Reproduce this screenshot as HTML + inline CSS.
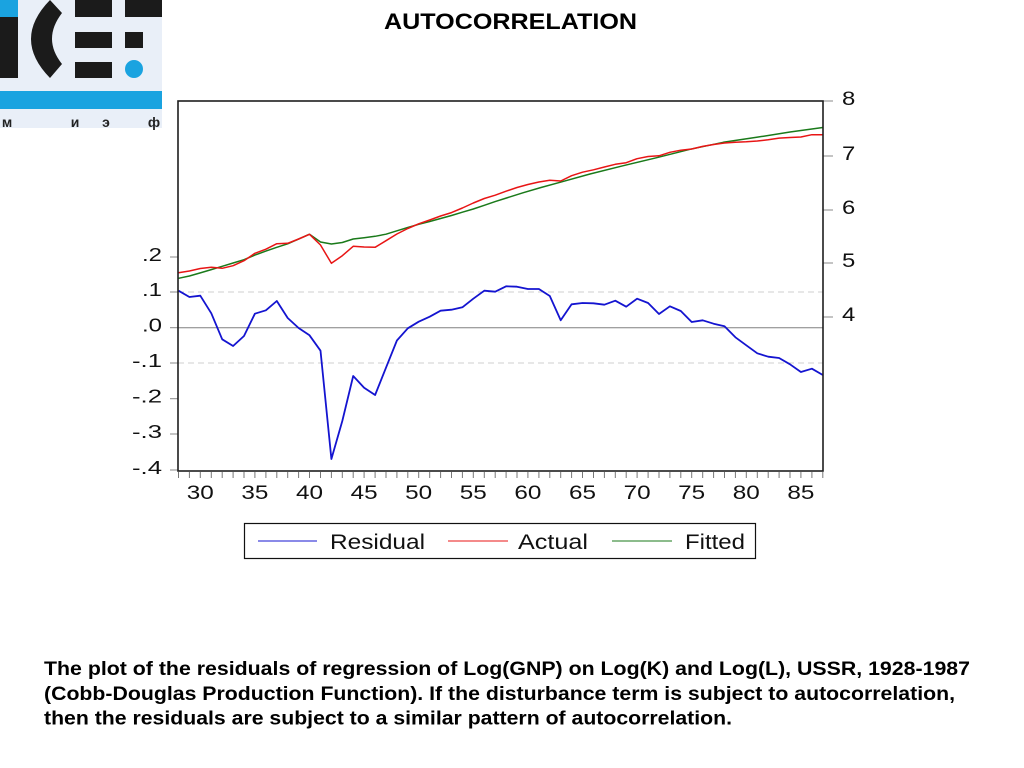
<!DOCTYPE html>
<html><head><meta charset="utf-8"><style>
html,body{margin:0;padding:0;background:#fff;}
svg{display:block;}
</style></head><body>
<svg width="1024" height="768" viewBox="0 0 1024 768" xmlns="http://www.w3.org/2000/svg" font-family="Liberation Sans, Arial, sans-serif">
<rect width="1024" height="768" fill="#fff"/>
<!-- Logo -->
<rect x="0" y="0" width="162" height="128" fill="#e9eff8"/>
<rect x="0" y="0" width="18" height="17" fill="#1aa3e0"/>
<rect x="0" y="17" width="18" height="61" fill="#1b1b1b"/>
<path d="M50,0 L62,13 Q42,39 62,64 L50,78 Q12,39 50,0 Z" fill="#1b1b1b"/>
<rect x="75" y="0" width="37" height="17" fill="#1b1b1b"/>
<rect x="125" y="0" width="37" height="17" fill="#1b1b1b"/>
<rect x="75" y="32" width="37" height="16" fill="#1b1b1b"/>
<rect x="125" y="32" width="18" height="16" fill="#1b1b1b"/>
<rect x="75" y="62" width="37" height="16" fill="#1b1b1b"/>
<circle cx="134" cy="69" r="9" fill="#1aa3e0"/>
<rect x="0" y="91" width="162" height="18" fill="#1aa3e0"/>
<g font-family="Liberation Sans, DejaVu Sans, sans-serif" font-weight="bold" font-size="14" fill="#222" text-anchor="middle">
<text x="7" y="127">м</text><text x="75" y="127">и</text><text x="106" y="127">э</text><text x="154" y="127">ф</text>
</g>
<!-- Title -->
<text x="384" y="29" font-size="22.5" font-weight="bold" textLength="253" lengthAdjust="spacingAndGlyphs">AUTOCORRELATION</text>
<!-- Grid -->
<line x1="178" y1="292" x2="823" y2="292" stroke="#cfcfcf" stroke-width="1" stroke-dasharray="6,4"/>
<line x1="178" y1="363" x2="823" y2="363" stroke="#cfcfcf" stroke-width="1" stroke-dasharray="6,4"/>
<line x1="178" y1="327.7" x2="823" y2="327.7" stroke="#808080" stroke-width="1"/>
<!-- Left ticks -->
<g stroke="#888" stroke-width="1">
<line x1="170" y1="257" x2="178" y2="257"/><line x1="170" y1="292" x2="178" y2="292"/><line x1="170" y1="327.7" x2="178" y2="327.7"/><line x1="170" y1="363" x2="178" y2="363"/><line x1="170" y1="398.7" x2="178" y2="398.7"/><line x1="170" y1="434" x2="178" y2="434"/><line x1="170" y1="470" x2="178" y2="470"/>
<line x1="823" y1="101" x2="833" y2="101"/><line x1="823" y1="156" x2="833" y2="156"/><line x1="823" y1="210" x2="833" y2="210"/><line x1="823" y1="263" x2="833" y2="263"/><line x1="823" y1="317" x2="833" y2="317"/>
</g>
<!-- Left labels -->
<g font-size="18" fill="#111" text-anchor="end">
<text x="162" y="261" textLength="20" lengthAdjust="spacingAndGlyphs">.2</text>
<text x="162" y="296" textLength="20" lengthAdjust="spacingAndGlyphs">.1</text>
<text x="162" y="331.7" textLength="20" lengthAdjust="spacingAndGlyphs">.0</text>
<text x="162" y="367" textLength="30" lengthAdjust="spacingAndGlyphs">-.1</text>
<text x="162" y="402.7" textLength="30" lengthAdjust="spacingAndGlyphs">-.2</text>
<text x="162" y="438" textLength="30" lengthAdjust="spacingAndGlyphs">-.3</text>
<text x="162" y="474" textLength="30" lengthAdjust="spacingAndGlyphs">-.4</text>
</g>
<!-- Right labels -->
<g font-size="19" fill="#111">
<text x="842" y="105" textLength="13.3" lengthAdjust="spacingAndGlyphs">8</text>
<text x="842" y="160" textLength="13.3" lengthAdjust="spacingAndGlyphs">7</text>
<text x="842" y="214" textLength="13.3" lengthAdjust="spacingAndGlyphs">6</text>
<text x="842" y="267" textLength="13.3" lengthAdjust="spacingAndGlyphs">5</text>
<text x="842" y="321" textLength="13.3" lengthAdjust="spacingAndGlyphs">4</text>
</g>
<!-- X ticks -->
<g stroke="#777" stroke-width="1">
<line x1="178.5" y1="472" x2="178.5" y2="478"/><line x1="189.4" y1="472" x2="189.4" y2="478"/><line x1="200.3" y1="472" x2="200.3" y2="478"/><line x1="211.3" y1="472" x2="211.3" y2="478"/><line x1="222.2" y1="472" x2="222.2" y2="478"/><line x1="233.1" y1="472" x2="233.1" y2="478"/><line x1="244" y1="472" x2="244" y2="478"/><line x1="254.9" y1="472" x2="254.9" y2="478"/><line x1="265.9" y1="472" x2="265.9" y2="478"/><line x1="276.8" y1="472" x2="276.8" y2="478"/><line x1="287.7" y1="472" x2="287.7" y2="478"/><line x1="298.6" y1="472" x2="298.6" y2="478"/><line x1="309.5" y1="472" x2="309.5" y2="478"/><line x1="320.5" y1="472" x2="320.5" y2="478"/><line x1="331.4" y1="472" x2="331.4" y2="478"/><line x1="342.3" y1="472" x2="342.3" y2="478"/><line x1="353.2" y1="472" x2="353.2" y2="478"/><line x1="364.1" y1="472" x2="364.1" y2="478"/><line x1="375.1" y1="472" x2="375.1" y2="478"/><line x1="386" y1="472" x2="386" y2="478"/><line x1="396.9" y1="472" x2="396.9" y2="478"/><line x1="407.8" y1="472" x2="407.8" y2="478"/><line x1="418.7" y1="472" x2="418.7" y2="478"/><line x1="429.7" y1="472" x2="429.7" y2="478"/><line x1="440.6" y1="472" x2="440.6" y2="478"/><line x1="451.5" y1="472" x2="451.5" y2="478"/><line x1="462.4" y1="472" x2="462.4" y2="478"/><line x1="473.3" y1="472" x2="473.3" y2="478"/><line x1="484.3" y1="472" x2="484.3" y2="478"/><line x1="495.2" y1="472" x2="495.2" y2="478"/><line x1="506.1" y1="472" x2="506.1" y2="478"/><line x1="517" y1="472" x2="517" y2="478"/><line x1="527.9" y1="472" x2="527.9" y2="478"/><line x1="538.9" y1="472" x2="538.9" y2="478"/><line x1="549.8" y1="472" x2="549.8" y2="478"/><line x1="560.7" y1="472" x2="560.7" y2="478"/><line x1="571.6" y1="472" x2="571.6" y2="478"/><line x1="582.5" y1="472" x2="582.5" y2="478"/><line x1="593.5" y1="472" x2="593.5" y2="478"/><line x1="604.4" y1="472" x2="604.4" y2="478"/><line x1="615.3" y1="472" x2="615.3" y2="478"/><line x1="626.2" y1="472" x2="626.2" y2="478"/><line x1="637.1" y1="472" x2="637.1" y2="478"/><line x1="648.1" y1="472" x2="648.1" y2="478"/><line x1="659" y1="472" x2="659" y2="478"/><line x1="669.9" y1="472" x2="669.9" y2="478"/><line x1="680.8" y1="472" x2="680.8" y2="478"/><line x1="691.7" y1="472" x2="691.7" y2="478"/><line x1="702.7" y1="472" x2="702.7" y2="478"/><line x1="713.6" y1="472" x2="713.6" y2="478"/><line x1="724.5" y1="472" x2="724.5" y2="478"/><line x1="735.4" y1="472" x2="735.4" y2="478"/><line x1="746.3" y1="472" x2="746.3" y2="478"/><line x1="757.3" y1="472" x2="757.3" y2="478"/><line x1="768.2" y1="472" x2="768.2" y2="478"/><line x1="779.1" y1="472" x2="779.1" y2="478"/><line x1="790" y1="472" x2="790" y2="478"/><line x1="800.9" y1="472" x2="800.9" y2="478"/><line x1="811.9" y1="472" x2="811.9" y2="478"/><line x1="822.8" y1="472" x2="822.8" y2="478"/>
</g>
<!-- X labels -->
<g font-size="19" fill="#111" text-anchor="middle">
<text x="200.3" y="499" textLength="27" lengthAdjust="spacingAndGlyphs">30</text>
<text x="254.9" y="499" textLength="27" lengthAdjust="spacingAndGlyphs">35</text>
<text x="309.5" y="499" textLength="27" lengthAdjust="spacingAndGlyphs">40</text>
<text x="364.1" y="499" textLength="27" lengthAdjust="spacingAndGlyphs">45</text>
<text x="418.7" y="499" textLength="27" lengthAdjust="spacingAndGlyphs">50</text>
<text x="473.3" y="499" textLength="27" lengthAdjust="spacingAndGlyphs">55</text>
<text x="527.9" y="499" textLength="27" lengthAdjust="spacingAndGlyphs">60</text>
<text x="582.5" y="499" textLength="27" lengthAdjust="spacingAndGlyphs">65</text>
<text x="637.1" y="499" textLength="27" lengthAdjust="spacingAndGlyphs">70</text>
<text x="691.7" y="499" textLength="27" lengthAdjust="spacingAndGlyphs">75</text>
<text x="746.3" y="499" textLength="27" lengthAdjust="spacingAndGlyphs">80</text>
<text x="800.9" y="499" textLength="27" lengthAdjust="spacingAndGlyphs">85</text>
</g>
<!-- Series -->
<polyline fill="none" stroke="#1a7a1a" stroke-width="1.5" stroke-linejoin="round" points="178.5,278.3 189.4,276 200.3,272.9 211.3,269.6 222.2,266.3 233.1,263 244,259.7 254.9,255.1 265.9,251.1 276.8,247.3 287.7,243.8 298.6,239.1 309.5,234.2 320.5,242 331.4,244 342.3,242.5 353.2,239 364.1,237.7 375.1,236.3 386,234.2 396.9,230.8 407.8,227.5 418.7,224.3 429.7,221.5 440.6,218.5 451.5,215.5 462.4,212.2 473.3,209 484.3,205.3 495.2,201.6 506.1,198.1 523.3,192.7 541,187.5 560,182.3 590,174 623.3,165.7 656.7,157.7 690,149.3 723.3,142.3 756.7,137.3 790,132 822.8,127.5"/>
<polyline fill="none" stroke="#e81515" stroke-width="1.5" stroke-linejoin="round" points="178.5,272.7 189.4,271 200.3,268.5 211.3,267.3 222.2,268.3 233.1,265.7 244,260.7 254.9,253.3 265.9,249.2 276.8,243.7 287.7,243.3 298.6,239 309.5,234.3 320.5,245 331.4,263.3 342.3,255.7 353.2,246.3 364.1,247 375.1,247.3 386,240.7 396.9,234 407.8,228.5 418.7,223.8 429.7,220 440.6,216 451.5,212.6 462.4,208 473.3,203 484.3,198.5 495.2,195.2 506.1,191.2 517,187.5 527.9,184.5 538.9,182 549.8,180.3 560.7,181 571.6,175.7 582.5,172.2 593.5,169.8 604.4,167 615.3,164.3 626.2,162.7 637.1,158.7 648.1,156.5 659,155.8 669.9,152.3 680.8,150.2 691.7,149 702.7,146.4 713.6,144.5 724.5,143 735.4,142.2 746.3,141.8 757.3,141 768.2,139.8 779.1,138.1 790,137.5 800.9,137 811.9,134.7 822.8,134.7"/>
<polyline fill="none" stroke="#1414d0" stroke-width="1.8" stroke-linejoin="round" points="178.5,290.7 189.4,297 200.3,295.7 211.3,313.3 222.2,339.3 233.1,346 244,336 254.9,313.7 265.9,310.3 276.8,301 287.7,318 298.6,328 309.5,335.3 320.5,350.7 331.4,459 342.3,421 353.2,376 364.1,387.7 375.1,395 386,367.7 396.9,340.5 407.8,328.3 418.7,321.7 429.7,316.7 440.6,310.7 451.5,309.7 462.4,307.3 473.3,298.7 484.3,290.7 495.2,291.7 506.1,286.3 517,286.7 527.9,289 538.9,289 549.8,296 560.7,320.3 571.6,304.3 582.5,303 593.5,303.3 604.4,304.7 615.3,300.7 626.2,306.7 637.1,298.7 648.1,303 659,314 669.9,306.3 680.8,311 691.7,322 702.7,320.3 713.6,323.7 724.5,326.3 735.4,337.3 746.3,345.3 757.3,353.3 768.2,356.7 779.1,358 790,364.3 800.9,372 811.9,368.7 822.8,375"/>
<!-- Frame -->
<rect x="178" y="101" width="645" height="370" fill="none" stroke="#1e1e1e" stroke-width="1.6"/>
<!-- Legend -->
<rect x="244.5" y="523.5" width="511" height="35" fill="#fff" stroke="#111" stroke-width="1.2"/>
<line x1="258" y1="541" x2="317" y2="541" stroke="#1414d0" stroke-width="1"/>
<line x1="448" y1="541" x2="508" y2="541" stroke="#e81515" stroke-width="1"/>
<line x1="612" y1="541" x2="672" y2="541" stroke="#1a7a1a" stroke-width="1"/>
<g font-size="21" fill="#111">
<text x="330" y="549" textLength="95" lengthAdjust="spacingAndGlyphs">Residual</text>
<text x="518" y="549" textLength="70" lengthAdjust="spacingAndGlyphs">Actual</text>
<text x="685" y="549" textLength="60" lengthAdjust="spacingAndGlyphs">Fitted</text>
</g>
<!-- Caption -->
<g font-size="19" font-weight="bold" fill="#000">
<text x="44" y="675" textLength="926" lengthAdjust="spacingAndGlyphs">The plot of the residuals of regression of Log(GNP) on Log(K) and Log(L), USSR, 1928-1987</text>
<text x="44" y="700" textLength="911" lengthAdjust="spacingAndGlyphs">(Cobb-Douglas Production Function). If the disturbance term is subject to autocorrelation,</text>
<text x="44" y="724.5" textLength="688" lengthAdjust="spacingAndGlyphs">then the residuals are subject to a similar pattern of autocorrelation.</text>
</g>
</svg>
</body></html>
